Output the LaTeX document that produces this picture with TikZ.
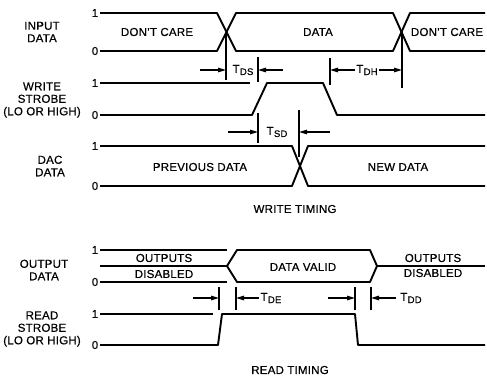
\documentclass[tikz,border=0pt]{standalone}
\usepackage{fontspec}
\setmainfont{Liberation Sans}[FakeBold=0.6,LetterSpace=2]
\usetikzlibrary{arrows.meta}
\newcommand{\tsb}[1]{T\kern0.3pt\raisebox{-0.35ex}{\fontsize{9.5}{9.5}\selectfont #1}}
\begin{document}
\begin{tikzpicture}[x=1pt,y=-1pt,
  sig/.style={line width=1.9pt, line join=round},
  ref/.style={line width=1.2pt},
  tck/.style={line width=1.1pt},
  dim/.style={line width=1.1pt,-{Triangle[length=8pt,width=4.5pt]}},
  lbl/.style={font=\fontsize{11.5}{13}\selectfont, inner sep=0pt},
  nm/.style={font=\fontsize{11.5}{12.5}\selectfont, align=center, inner sep=0pt},
]
\useasboundingbox (0,0) rectangle (487,378);

% ---------- INPUT DATA ----------
\node[nm] (inlab) at (42,32) {INPUT\\DATA};
\node[lbl] (in1) at (95,13) {1};
\node[lbl] (in0) at (95,51) {0};
\draw[sig] (100,13) -- (217,13) -- (236,51) -- (393,51) -- (410,13) -- (485,13);
\draw[sig] (100,51) -- (217,51) -- (236,13) -- (393,13) -- (410,51) -- (485,51);
\node[lbl] (dc1) at (157,32) {DON'T CARE};
\node[lbl] (data) at (318,32) {DATA};
\node[lbl] (dc2) at (447,32) {DON'T CARE};

% ---------- WRITE STROBE ----------
\node[nm] (wslab) at (42,100) {WRITE\\STROBE\\(LO OR HIGH)};
\node[lbl] (ws1) at (95,83) {1};
\node[lbl] (ws0) at (95,115) {0};
\draw[ref] (100,83) -- (250,83);
\draw[sig] (100,115) -- (252,115) -- (267,83) -- (323,83) -- (337,115) -- (485,115);

% T_DS
\draw[tck] (226,33) -- (226,80);
\draw[dim] (200,70) -- (226,70);
\node[lbl] (tds) at (243,70) {\tsb{DS}};
\draw[tck] (258,57) -- (258,82);
\draw[dim] (283,70) -- (258,70);
% T_DH
\draw[tck] (330,58) -- (330,85);
\draw[dim] (355,70) -- (330,70);
\node[lbl] (tdh) at (367,70) {\tsb{DH}};
\draw[dim] (379,70) -- (402,70);
\draw[tck] (402,33) -- (402,88);
% T_SD
\draw[tck] (258,113) -- (258,143);
\draw[dim] (228,132) -- (258,132);
\node[lbl] (tsd) at (277,132) {\tsb{SD}};
\draw[tck] (299,110) -- (299,157);
\draw[dim] (330,132) -- (299,132);

% ---------- DAC DATA ----------
\node[nm] (daclab) at (50,166) {DAC\\DATA};
\node[lbl] (dac1) at (95,146) {1};
\node[lbl] (dac0) at (95,186) {0};
\draw[sig] (100,146) -- (292,146) -- (308,186) -- (485,186);
\draw[sig] (100,186) -- (292,186) -- (308,146) -- (485,146);
\node[lbl] (prev) at (200,167) {PREVIOUS DATA};
\node[lbl] (new) at (398,167) {NEW DATA};

\node[lbl] (wt) at (295,209) {WRITE TIMING};

% ---------- OUTPUT DATA ----------
\node[nm] (odlab) at (44,270) {OUTPUT\\DATA};
\node[lbl] (od1) at (95,250) {1};
\node[lbl] (od0) at (95,282) {0};
\draw[ref] (100,250) -- (227,250);
\draw[ref] (100,282) -- (227,282);
\draw[ref] (100,266) -- (227,266);
\draw[ref] (377,266) -- (485,266);
\draw[sig] (227,266) -- (237,250) -- (370,250) -- (377,266) -- (370,282) -- (237,282) -- cycle;
\node[lbl] (od1a) at (164,258) {OUTPUTS};
\node[lbl] (od1b) at (164,274) {DISABLED};
\node[lbl] (dv) at (303,267) {DATA VALID};
\node[lbl] (od2a) at (433,258) {OUTPUTS};
\node[lbl] (od2b) at (433,273) {DISABLED};

% ---------- READ STROBE ----------
\node[nm] (rslab) at (42,329) {READ\\STROBE\\(LO OR HIGH)};
\node[lbl] (rs1) at (95,314) {1};
\node[lbl] (rs0) at (95,345) {0};
\draw[ref] (100,314) -- (213,314);
\draw[sig] (100,345) -- (218,345) -- (222,314) -- (355,314) -- (358,345) -- (485,345);

% T_DE
\draw[tck] (219,287) -- (219,310);
\draw[dim] (193,298) -- (219,298);
\draw[tck] (236,287) -- (236,310);
\draw[dim] (259,298) -- (236,298);
\node[lbl] (tde) at (271,298) {\tsb{DE}};
% T_DD
\draw[tck] (355,287) -- (355,310);
\draw[dim] (328,298) -- (355,298);
\draw[tck] (371,287) -- (371,310);
\draw[dim] (396,298) -- (371,298);
\node[lbl] (tdd) at (411,298) {\tsb{DD}};

\node[lbl] (rt) at (290,370) {READ TIMING};
\end{tikzpicture}
\end{document}
